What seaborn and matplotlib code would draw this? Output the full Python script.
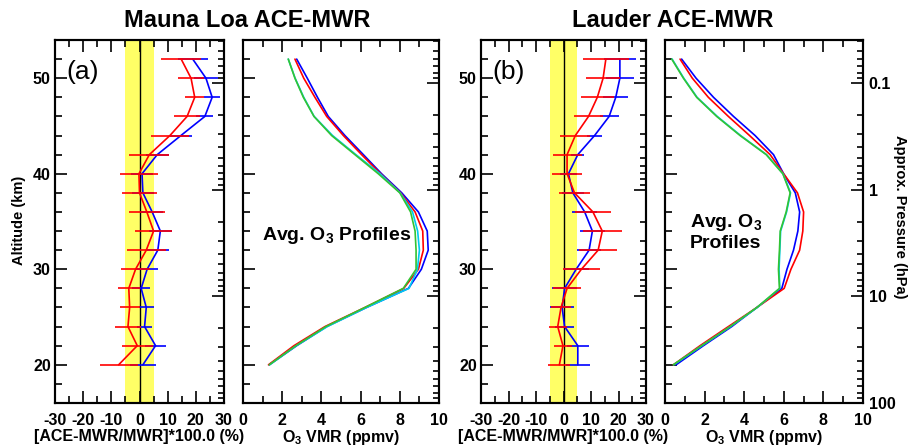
import numpy as np
import seaborn as sns
import matplotlib.pyplot as plt
from matplotlib.ticker import MultipleLocator, LogLocator, NullFormatter, FuncFormatter

# altitude levels (km)
alt = [20, 22, 24, 26, 28, 30, 32, 34, 36, 38, 40, 42, 44, 46, 48, 50, 52]

# Mauna Loa relative differences (%)
ml_red = [-7.4, -0.8, -4.1, -3.5, -3.8, -1.4, 2.4, 5.0, 2.6, 0.0, -0.2, 3.5, 10.8, 16.9, 19.6, 18.3, 14.8]
ml_red_err = [6.8, 5.5, 4.5, 3.5, 3.9, 5.3, 7.0, 6.7, 6.3, 6.3, 6.9, 7.1, 6.6, 4.7, 3.3, 4.7, 7.0]
ml_blue = [1.2, 5.7, 1.8, 2.4, 0.6, 2.7, 6.5, 7.4, 4.5, 1.2, 0.9, 6.3, 14.7, 23.2, 25.8, 23.6, 18.9]
ml_blue_err = [4.5, 3.8, 2.6, 2.7, 3.3, 3.8, 4.0, 4.0, 4.0, 4.0, 4.0, 4.0, 4.0, 3.0, 2.8, 4.1, 5.3]

# Lauder relative differences (%)
ld_red = [-1.5, -0.2, -2.1, -0.9, 1.3, 6.5, 12.6, 14.1, 10.7, 4.0, 1.3, 1.3, 4.3, 9.1, 12.3, 14.4, 15.4]
ld_red_err = [4.0, 3.2, 3.2, 3.7, 5.2, 6.6, 7.0, 7.1, 6.5, 5.7, 5.4, 5.3, 5.4, 5.4, 5.9, 6.1, 8.3]
ld_blue = [5.2, 5.2, 0.4, -0.5, 0.4, 4.6, 9.3, 10.5, 7.7, 3.4, 1.8, 5.2, 11.3, 16.6, 19.0, 20.5, 20.5]
ld_blue_err = [4.3, 4.0, 3.5, 4.3, 4.6, 4.5, 4.5, 4.5, 4.5, 4.0, 3.0, 2.4, 2.7, 3.5, 4.5, 5.1, 5.7]

# Mauna Loa average O3 VMR profiles (ppmv)
ml_vmr_blue = [1.34, 2.74, 4.27, 6.3, 8.44, 9.1, 9.45, 9.4, 8.95, 8.1, 7.07, 6.14, 5.2, 4.35, 3.8, 3.28, 2.74]
ml_vmr_red = [1.3, 2.6, 4.18, 6.22, 8.2, 8.95, 9.2, 9.17, 8.78, 8.04, 7.02, 6.05, 5.12, 4.27, 3.67, 3.1, 2.65]
ml_vmr_cyan = [1.36, 2.72, 4.3, 6.3, 8.47, 8.9, 9.0, 8.91, 8.65, 8.02, 6.99, 5.76, 4.57, 3.63, 3.1, 2.66, 2.31]
ml_vmr_green = [1.34, 2.7, 4.23, 6.22, 8.18, 8.83, 8.83, 8.78, 8.55, 8.0, 6.9, 5.71, 4.52, 3.62, 3.08, 2.65, 2.31]

# Lauder average O3 VMR profiles (ppmv)
ld_vmr_blue = [0.56, 1.94, 3.37, 4.64, 5.9, 6.16, 6.49, 6.71, 6.8, 6.58, 5.99, 5.48, 4.55, 3.46, 2.45, 1.57, 0.84]
ld_vmr_red = [0.42, 1.77, 3.2, 4.64, 6.02, 6.36, 6.8, 6.96, 7.0, 6.69, 5.99, 5.31, 4.27, 3.2, 2.19, 1.38, 0.76]
ld_vmr_cyan = [0.44, 1.86, 3.3, 4.66, 5.8, 5.76, 5.8, 5.84, 6.14, 6.34, 5.96, 5.13, 3.82, 2.64, 1.62, 0.95, 0.36]
ld_vmr_green = [0.42, 1.85, 3.29, 4.64, 5.78, 5.73, 5.78, 5.82, 6.12, 6.32, 5.95, 5.11, 3.79, 2.61, 1.6, 0.93, 0.34]

sns.set_style('ticks')
plt.rcParams['font.family'] = ['Liberation Sans', 'DejaVu Sans']
plt.rcParams['font.weight'] = 'bold'
plt.rcParams['axes.labelweight'] = 'bold'
plt.rcParams['axes.unicode_minus'] = False
plt.rcParams['mathtext.fontset'] = 'custom'
plt.rcParams['mathtext.rm'] = 'Liberation Sans:bold'
plt.rcParams['mathtext.default'] = 'rm'
for key in ['text.color', 'axes.labelcolor', 'xtick.color', 'ytick.color', 'axes.edgecolor']:
    plt.rcParams[key] = 'black'

RED, BLUE, CYAN, GREEN = '#ff0000', '#0000ff', '#00ccee', '#33c433'
LW = 1.2

W, H = 909, 445
fig = plt.figure(figsize=(9.09, 4.45), dpi=100)


def make_ax(x0, x1):
    return fig.add_axes([x0 / W, (H - 403) / H, (x1 - x0) / W, 363 / H])


def style(ax, xlim, xmaj, xmin, ylabels, plabels):
    ax.set_xlim(*xlim)
    ax.set_ylim(16, 54)
    ax.xaxis.set_major_locator(MultipleLocator(xmaj))
    ax.xaxis.set_minor_locator(MultipleLocator(xmin))
    ax.yaxis.set_major_locator(MultipleLocator(10))
    ax.yaxis.set_minor_locator(MultipleLocator(2))
    ax.tick_params(which='both', direction='in', top=True, right=False,
                   width=1.2, labelsize=11.5, labelleft=ylabels)
    ax.tick_params(which='major', length=8.5)
    ax.tick_params(which='minor', length=5)
    ax.tick_params(axis='x', pad=7)
    ax.tick_params(axis='y', pad=3)
    for s in ax.spines.values():
        s.set_linewidth(1.5)
    # approximate pressure scale on the right spine
    tw = ax.twinx()
    tw.set_yscale('log')
    tw.set_ylim(100, 10 ** -1.403)
    tw.yaxis.set_major_locator(LogLocator(base=10))
    tw.yaxis.set_minor_locator(LogLocator(base=10, subs=np.arange(2, 10)))
    tw.yaxis.set_minor_formatter(NullFormatter())
    tw.yaxis.set_major_formatter(FuncFormatter(lambda v, p: f'{v:g}'))
    tw.tick_params(which='both', direction='in', width=1.2, labelsize=11.5,
                   labelright=plabels, pad=4)
    tw.tick_params(which='major', length=8.5)
    tw.tick_params(which='minor', length=4.5)
    for s in tw.spines.values():
        s.set_linewidth(1.5)
    ax.set_ylabel('')
    return tw


def diff_panel(ax, red, red_err, blue, blue_err, tag):
    ax.axvspan(-5, 5, color='#ffff66', lw=0, zorder=0)
    ax.axvline(0, color='black', lw=1, zorder=1)
    sns.lineplot(x=blue, y=alt, orient='y', sort=False, estimator=None,
                 color=BLUE, lw=LW, ax=ax)
    ax.hlines(alt, np.array(blue) - blue_err, np.array(blue) + blue_err, color=BLUE, lw=LW)
    sns.lineplot(x=red, y=alt, orient='y', sort=False, estimator=None,
                 color=RED, lw=LW, ax=ax)
    ax.hlines(alt, np.array(red) - red_err, np.array(red) + red_err, color=RED, lw=LW)
    ax.text(-26, 50.6, tag, fontsize=19, fontweight='normal', ha='left', va='center')
    ax.set_xlabel('[ACE-MWR/MWR]*100.0 (%)', fontsize=11.5, labelpad=1)


def vmr_panel(ax, blue, red, cyan, green):
    for vals, c in [(blue, BLUE), (red, RED), (cyan, CYAN), (green, GREEN)]:
        sns.lineplot(x=vals, y=alt, orient='y', sort=False, estimator=None,
                     color=c, lw=LW, ax=ax)
    ax.set_xlabel('O$_3$ VMR (ppmv)', fontsize=11.5, labelpad=0)


ax1 = make_ax(55, 224)
diff_panel(ax1, ml_red, ml_red_err, ml_blue, ml_blue_err, '(a)')
style(ax1, (-30, 30), 10, 5, True, False)

ax2 = make_ax(243, 439)
vmr_panel(ax2, ml_vmr_blue, ml_vmr_red, ml_vmr_cyan, ml_vmr_green)
ax2.text(0.97, 33.1, 'Avg. O$_3$ Profiles', fontsize=14, ha='left', va='baseline')
style(ax2, (0, 10), 2, 1, False, False)

ax3 = make_ax(481, 646)
diff_panel(ax3, ld_red, ld_red_err, ld_blue, ld_blue_err, '(b)')
style(ax3, (-30, 30), 10, 5, True, False)

ax4 = make_ax(665, 863)
vmr_panel(ax4, ld_vmr_blue, ld_vmr_red, ld_vmr_cyan, ld_vmr_green)
ax4.text(1.26, 34.4, 'Avg. O$_3$', fontsize=14, ha='left', va='baseline')
ax4.text(1.26, 32.2, 'Profiles', fontsize=14, ha='left', va='baseline')
style(ax4, (0, 10), 2, 1, False, True)

fig.text(247.5 / W, 1 - 20.5 / H, 'Mauna Loa ACE-MWR', fontsize=17, ha='center', va='center')
fig.text(673 / W, 1 - 20.5 / H, 'Lauder ACE-MWR', fontsize=17, ha='center', va='center')
fig.text(19 / W, 1 - 220 / H, 'Altitude (km)', fontsize=10.5, rotation=90, ha='center', va='center')
fig.text(900 / W, 1 - 217 / H, 'Approx. Pressure (hPa)', fontsize=10.5, rotation=270,
         ha='center', va='center')

fig.savefig('out.png', dpi=100)
